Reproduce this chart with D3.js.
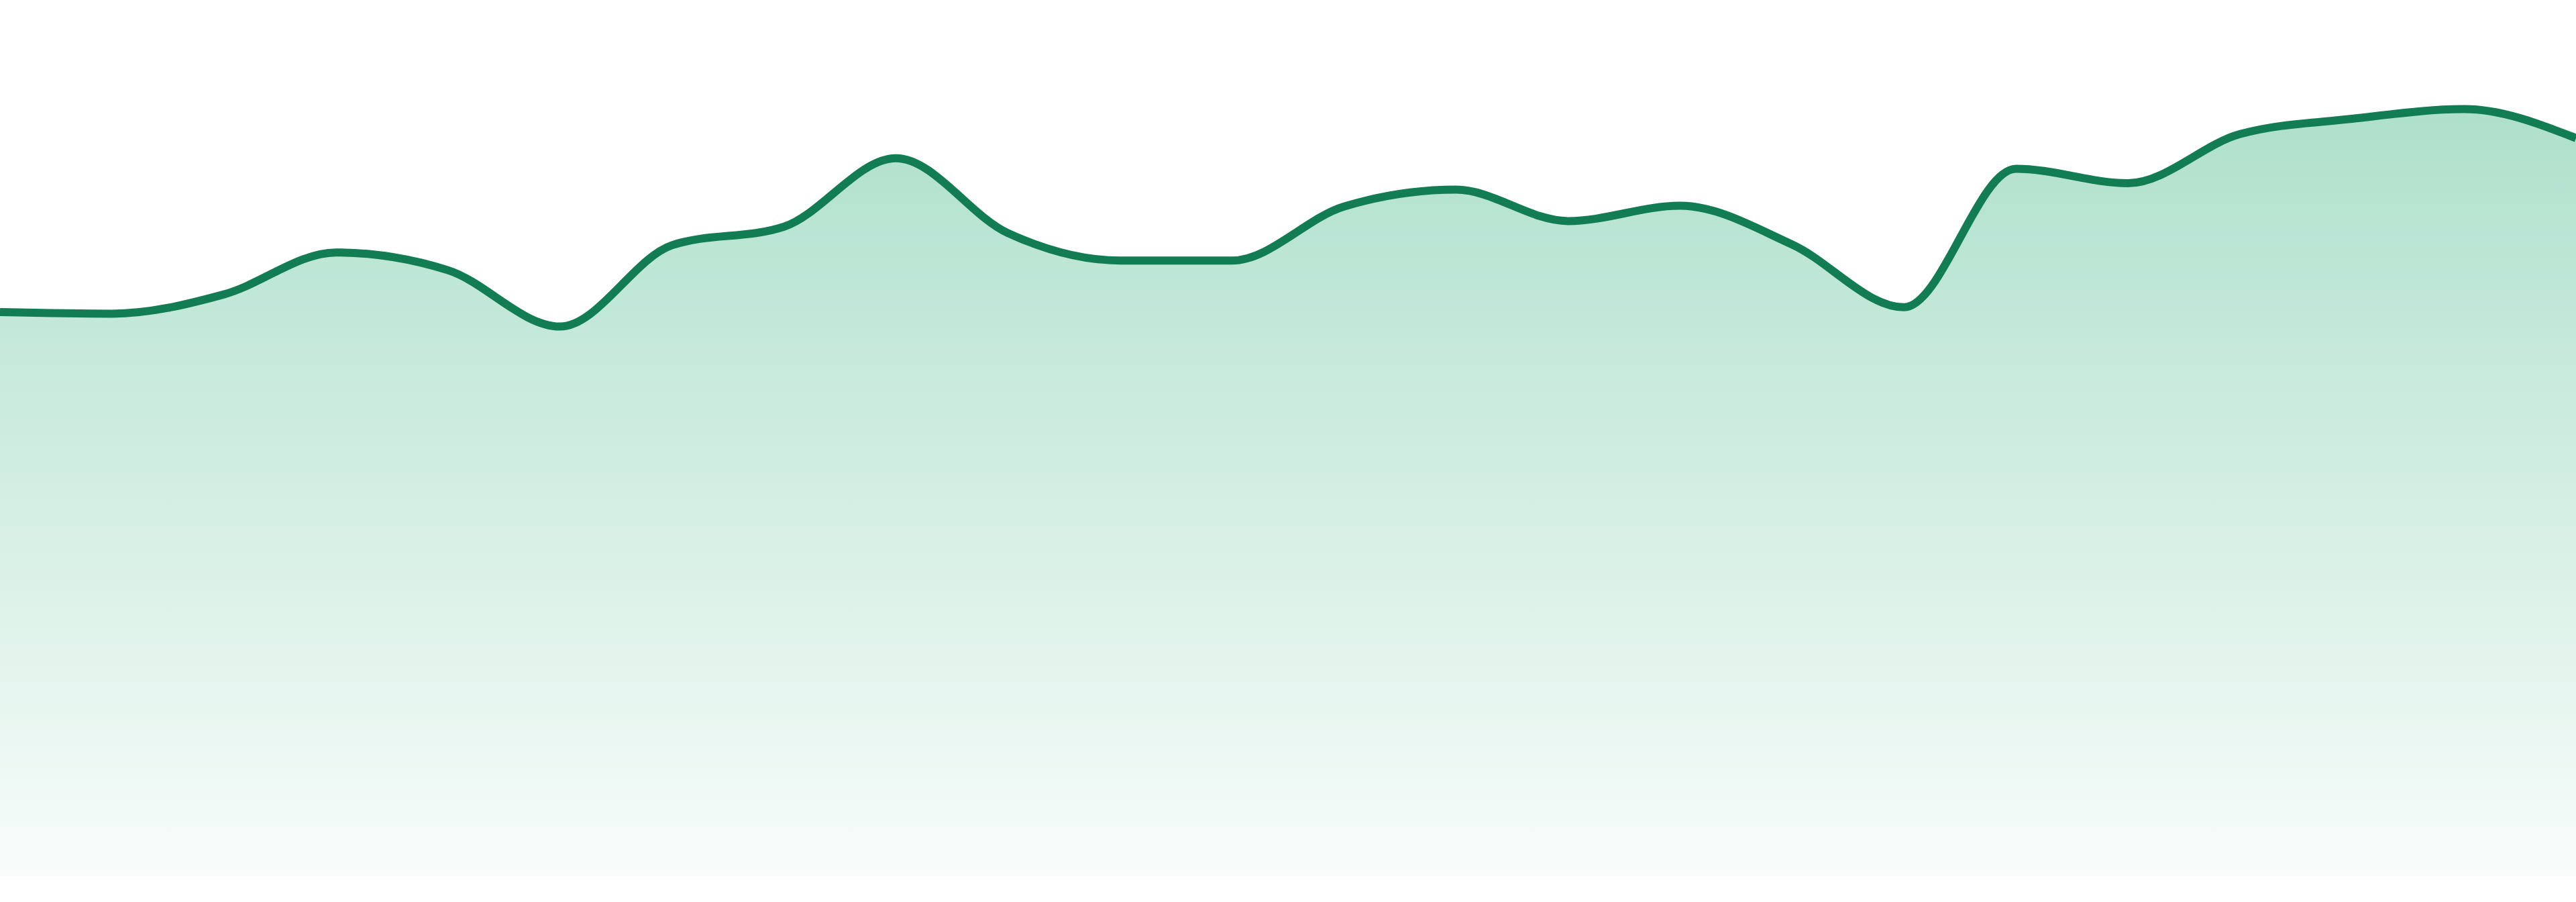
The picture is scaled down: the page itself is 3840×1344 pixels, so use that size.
<!DOCTYPE html>
<html>
<head>
<meta charset="utf-8">
<script src="https://cdn.jsdelivr.net/npm/d3@7"></script>
<style>
  html, body { margin: 0; padding: 0; background: #fff; overflow: hidden; }
  svg { display: block; }
</style>
</head>
<body>
<svg id="chart"></svg>
<script>
const WIDTH = 3840;
const HEIGHT = 1344;

// one value per step
const steps = d3.range(24);
const values = [
  70.0, 69.8, 72.2, 77.4, 75.2, 68.2, 78.3, 80.6, 89.1, 79.8, 76.4, 76.4,
  83.1, 85.2, 81.3, 83.2, 78.4, 70.6, 87.8, 86.0, 92.1, 94.0, 95.2, 91.6
];
const yDomain = [0, 100];

const data = steps.map((s, i) => ({ step: s, value: values[i] }));

const margin = { top: 105, right: 0, bottom: 39, left: 0 };

const svg = d3.select("#chart")
  .attr("width", WIDTH)
  .attr("height", HEIGHT)
  .attr("viewBox", `0 0 ${WIDTH} ${HEIGHT}`);

const x = d3.scaleLinear()
  .domain(d3.extent(steps))
  .range([margin.left, WIDTH - margin.right]);

const y = d3.scaleLinear()
  .domain(yDomain)
  .range([HEIGHT - margin.bottom, margin.top]);

const grad = svg.append("defs")
  .append("linearGradient")
  .attr("id", "areaFill")
  .attr("gradientUnits", "userSpaceOnUse")
  .attr("x1", 0).attr("x2", 0)
  .attr("y1", y(d3.max(values)))
  .attr("y2", y(0));

grad.append("stop").attr("offset", "0%").attr("stop-color", "#12a468").attr("stop-opacity", 0.34);
grad.append("stop").attr("offset", "100%").attr("stop-color", "#12a468").attr("stop-opacity", 0.03);

const area = d3.area()
  .x(d => x(d.step))
  .y0(y(0))
  .y1(d => y(d.value))
  .curve(d3.curveMonotoneX);

const line = d3.line()
  .x(d => x(d.step))
  .y(d => y(d.value))
  .curve(d3.curveMonotoneX);

svg.append("path")
  .datum(data)
  .attr("fill", "url(#areaFill)")
  .attr("d", area);

svg.append("path")
  .datum(data)
  .attr("fill", "none")
  .attr("stroke", "#127c52")
  .attr("stroke-width", 12)
  .attr("stroke-linejoin", "round")
  .attr("d", line);
</script>
</body>
</html>
